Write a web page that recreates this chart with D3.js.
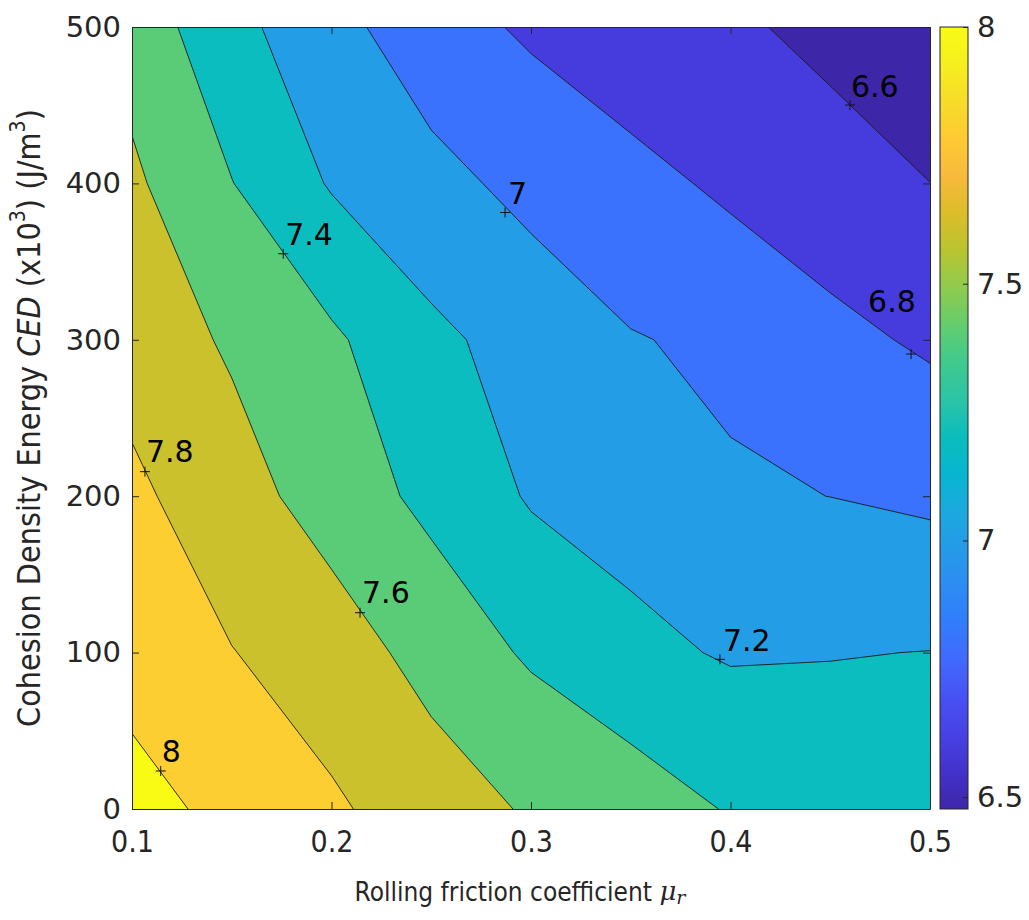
<!DOCTYPE html>
<html>
<head>
<meta charset="utf-8">
<script src="https://cdn.jsdelivr.net/npm/d3@7"></script>
<style>
  body { margin: 0; background: #fff; }
</style>
</head>
<body>
<svg id="chart" width="1029" height="920"></svg>
<script>
// sample grid of the map
const muGrid  = [0.1, 0.15, 0.2, 0.25, 0.3, 0.35, 0.4, 0.45, 0.5];
const cedGrid = [0, 100, 200, 300, 400, 500];

// one row per CED value (0 ... 500), columns follow muGrid
const zCed0   = [8.055, 7.957, 7.823, 7.718, 7.574, 7.509, 7.385, 7.320, 7.280];
const zCed100 = [7.941, 7.805, 7.715, 7.518, 7.375, 7.247, 7.182, 7.193, 7.203];
const zCed200 = [7.836, 7.693, 7.499, 7.355, 7.181, 7.128, 7.020, 6.999, 6.964];
const zCed300 = [7.731, 7.570, 7.432, 7.242, 7.123, 7.010, 6.967, 6.851, 6.771];
const zCed400 = [7.635, 7.405, 7.183, 7.062, 6.942, 6.867, 6.760, 6.681, 6.601];
const zCed500 = [7.520, 7.258, 7.065, 6.880, 6.771, 6.658, 6.630, 6.551, 6.477];

const levels = [6.6, 6.8, 7.0, 7.2, 7.4, 7.6, 7.8, 8.0];

// clabel positions
const labelText = ["8", "7.8", "7.6", "7.4", "7", "7.2", "6.8", "6.6"];
const labelMu   = [0.1144, 0.1065, 0.2143, 0.1758, 0.287, 0.3947, 0.4905, 0.4599];
const labelCed  = [24.3, 215.7, 125.5, 355, 381.4, 95.7, 290.9, 450.1];

const xTicks = [0.1, 0.2, 0.3, 0.4, 0.5];
const yTicks = [0, 100, 200, 300, 400, 500];
const cTicks = [6.5, 7, 7.5, 8];
const colorLimits = [6.477, 8.0];

// parula (every 3rd entry of the 64 map)
const parulaColors = [
  [0.2422,0.1504,0.6603],[0.2647,0.1978,0.7952],[0.2783,0.2559,0.8991],[0.2810,0.3228,0.9579],
  [0.2602,0.4123,0.9952],[0.1963,0.4847,0.9892],[0.1764,0.5499,0.9520],[0.1460,0.6091,0.9079],
  [0.1113,0.6635,0.8763],[0.0297,0.7082,0.8163],[0.0433,0.7411,0.7394],[0.1717,0.7670,0.6554],
  [0.2470,0.7918,0.5567],[0.3909,0.8029,0.4354],[0.5616,0.7942,0.3045],[0.7242,0.7698,0.1910],
  [0.8634,0.7406,0.1596],[0.9728,0.7298,0.2394],[0.9952,0.7893,0.2028],[0.9676,0.8639,0.1643],
  [0.9628,0.9373,0.1265],[0.9769,0.9839,0.0805]
].map(c => d3.rgb(c[0]*255, c[1]*255, c[2]*255).formatHex());

const parula = d3.scaleLinear()
    .domain(parulaColors.map((c, i) => colorLimits[0] + i / (parulaColors.length - 1) * (colorLimits[1] - colorLimits[0])))
    .range(parulaColors)
    .interpolate(d3.interpolateRgb)
    .clamp(true);

const ink = "#262626";
const svg = d3.select("#chart");

const plotL = 132, plotR = 930, plotT = 27, plotB = 809;

let xScale = d3.scaleLinear().domain([0.1, 0.5]).range([plotL, plotR]),
    yScale = d3.scaleLinear().domain([0, 500]).range([plotB, plotT]);

/* contour fills */
const nx = muGrid.length, ny = cedGrid.length;
const values = [].concat(zCed0, zCed100, zCed200, zCed300, zCed400, zCed500);

// grid coords from d3.contours: sample i sits at i + 0.5
let gx = d3.scaleLinear().domain([0.5, nx - 0.5]).range([muGrid[0], muGrid[nx - 1]]),
    gy = d3.scaleLinear().domain([0.5, ny - 0.5]).range([cedGrid[0], cedGrid[ny - 1]]);

const path = d3.geoPath(d3.geoTransform({
    point(px, py) { this.stream.point(xScale(gx(px)), yScale(gy(py))); }
}));

const fillThresholds = [d3.min(values)].concat(levels);
const bands = d3.contours().size([nx, ny]).thresholds(fillThresholds)(values);

svg.append("clipPath").attr("id", "plotClip")
    .append("rect")
    .attr("x", plotL).attr("y", plotT)
    .attr("width", plotR - plotL).attr("height", plotB - plotT);

let g = svg.append("g").attr("clip-path", "url(#plotClip)");

g.selectAll(".band")
    .data(bands)
    .enter()
    .append("path")
    .attr("class", "band")
    .attr("d", path)
    .attr("fill", (d, i) => i === 0 ? parula(colorLimits[0]) : parula(d.value))
    .attr("stroke", "none");

g.selectAll(".cline")
    .data(bands.slice(1))
    .enter()
    .append("path")
    .attr("class", "cline")
    .attr("d", path)
    .attr("fill", "none")
    .attr("stroke", "#1a1a1a")
    .attr("stroke-width", 0.9);

/* contour labels */
const labelDx = [1, 1, 2, 2, 3, 3, -43, 1],
      labelDy = [-9, -10, -10, -9, -8, -8, -42, -8];

let lab = svg.append("g");
labelText.forEach((t, i) => {
    let px = xScale(labelMu[i]), py = yScale(labelCed[i]);
    lab.append("path")
        .attr("d", `M${px - 5},${py}H${px + 5}M${px},${py - 5}V${py + 5}`)
        .attr("stroke", "#111")
        .attr("stroke-width", 1);
    lab.append("text")
        .attr("x", px + labelDx[i])
        .attr("y", py + labelDy[i])
        .attr("font-family", "DejaVu Sans, sans-serif")
        .attr("font-size", 30)
        .attr("fill", "#000")
        .text(t);
});

/* axes (MATLAB box, inward ticks) */
const narrow = "'Liberation Sans Narrow', 'DejaVu Sans Condensed', 'Open Sans', sans-serif";

let xAxis = svg.append("g")
    .attr("transform", `translate(0,${plotB})`)
    .call(d3.axisBottom(xScale).tickValues(xTicks).tickFormat(d3.format(".1f"))
        .tickSizeInner(-7).tickSizeOuter(0).tickPadding(22));
xAxis.selectAll("text").attr("font-family", narrow).attr("font-size", 30).attr("fill", ink);

let yAxis = svg.append("g")
    .attr("transform", `translate(${plotL},0)`)
    .call(d3.axisLeft(yScale).tickValues(yTicks)
        .tickSizeInner(-7).tickSizeOuter(0).tickPadding(11));
yAxis.selectAll("text").attr("font-family", "DejaVu Sans, sans-serif").attr("font-size", 29).attr("fill", ink);

svg.append("g")
    .attr("transform", `translate(0,${plotT})`)
    .call(d3.axisTop(xScale).tickValues(xTicks).tickFormat("").tickSizeInner(-7).tickSizeOuter(0));
svg.append("g")
    .attr("transform", `translate(${plotR},0)`)
    .call(d3.axisRight(yScale).tickValues(yTicks).tickFormat("").tickSizeInner(-7).tickSizeOuter(0));

svg.selectAll(".domain, .tick line").attr("stroke", ink).attr("stroke-width", 1);

/* axis titles */
svg.append("text")
    .attr("x", 520)
    .attr("y", 893)
    .attr("text-anchor", "middle")
    .attr("dominant-baseline", "middle")
    .attr("font-family", narrow)
    .attr("font-size", 26)
    .attr("fill", ink)
    .call(t => {
        t.append("tspan").text("Rolling friction coefficient ");
        t.append("tspan").attr("font-family", "DejaVu Serif, serif").attr("font-style", "italic").text("\u03bc");
        t.append("tspan").attr("font-family", "DejaVu Serif, serif").attr("font-style", "italic")
            .attr("font-size", 19).attr("dy", 6).text("r");
    });

svg.append("text")
    .attr("transform", `translate(31,${(plotT + plotB) / 2}) rotate(-90)`)
    .attr("text-anchor", "middle")
    .attr("dominant-baseline", "middle")
    .attr("font-family", narrow)
    .attr("font-size", 32)
    .attr("fill", ink)
    .call(t => {
        t.append("tspan").text("Cohesion Density Energy ");
        t.append("tspan").attr("font-style", "italic").text("CED");
        t.append("tspan").text(" (x10");
        t.append("tspan").attr("font-size", 21).attr("dy", -12).text("3");
        t.append("tspan").attr("dy", 12).text(") (J/m");
        t.append("tspan").attr("font-size", 21).attr("dy", -12).text("3");
        t.append("tspan").attr("dy", 12).text(")");
    });

/* colorbar */
const cbX = 940, cbW = 28;
let cScale = d3.scaleLinear().domain(colorLimits).range([plotB, plotT]);

let grad = svg.append("defs").append("linearGradient")
    .attr("id", "parulaGrad")
    .attr("x1", 0).attr("y1", 1).attr("x2", 0).attr("y2", 0);
grad.selectAll("stop")
    .data(parulaColors)
    .enter()
    .append("stop")
    .attr("offset", (d, i) => i / (parulaColors.length - 1))
    .attr("stop-color", d => d);

svg.append("rect")
    .attr("x", cbX).attr("y", plotT)
    .attr("width", cbW).attr("height", plotB - plotT)
    .attr("fill", "url(#parulaGrad)")
    .attr("stroke", ink)
    .attr("stroke-width", 1);

let cAxis = svg.append("g")
    .attr("transform", `translate(${cbX + cbW},0)`)
    .call(d3.axisRight(cScale).tickValues(cTicks).tickFormat(d3.format("~g"))
        .tickSizeInner(-5).tickSizeOuter(0).tickPadding(9));
cAxis.select(".domain").remove();
cAxis.selectAll(".tick line").attr("stroke", ink);
cAxis.selectAll("text").attr("font-family", "DejaVu Sans, sans-serif").attr("font-size", 29).attr("fill", ink);
</script>
</body>
</html>
